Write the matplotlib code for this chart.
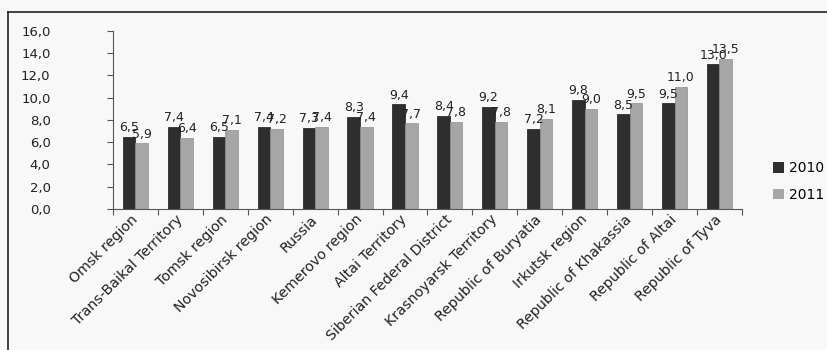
import matplotlib.pyplot as plt
from matplotlib.lines import Line2D
from matplotlib.patches import Patch
import numpy as np

# mortality by region, 2010 vs 2011
regions = [
    "Omsk region", "Trans-Baikal Territory", "Tomsk region",
    "Novosibirsk region", "Russia", "Kemerovo region", "Altai Territory",
    "Siberian Federal District", "Krasnoyarsk Territory",
    "Republic of Buryatia", "Irkutsk region", "Republic of Khakassia",
    "Republic of Altai", "Republic of Tyva",
]
vals_2010 = [6.5, 7.4, 6.5, 7.4, 7.3, 8.3, 9.4, 8.4, 9.2, 7.2, 9.8, 8.5, 9.5, 13.0]
vals_2011 = [5.9, 6.4, 7.1, 7.2, 7.4, 7.4, 7.7, 7.8, 7.8, 8.1, 9.0, 9.5, 11.0, 13.5]
years = ["2010", "2011"]
yticks = np.arange(0, 16.1, 2)

DARK = "#2e2e2e"
LIGHT = "#a6a6a6"
BG = "#f8f8f8"


def fmt(v):
    return f"{v:.1f}".replace(".", ",")


fig = plt.figure(figsize=(8.28, 3.5), dpi=100, facecolor=BG)
ax = fig.add_axes([0.1365, 0.403, 0.7595, 0.5084])
ax.set_facecolor(BG)

x = np.arange(len(regions))
w = 0.28
b1 = ax.bar(x - w / 2, vals_2010, w, color=DARK, edgecolor="#1a1a1a", linewidth=0.5)
b2 = ax.bar(x + w / 2, vals_2011, w, color=LIGHT, edgecolor="#909090", linewidth=0.5)

for bars, vals in ((b1, vals_2010), (b2, vals_2011)):
    for r, v in zip(bars, vals):
        ax.text(r.get_x() + r.get_width() / 2, v + 0.25, fmt(v),
                ha="center", va="bottom", fontsize=9, color="#222222")

ax.set_xlim(-0.5, len(regions) - 0.5)
ax.set_ylim(0, 16)
ax.set_yticks(yticks)
ax.set_yticklabels([fmt(t) for t in yticks], fontsize=9.5, color="#222222")
ax.tick_params(axis="y", length=4, pad=41, color="#555555")

# category ticks sit between the groups
ax.set_xticks(np.arange(-0.5, len(regions) + 0.5, 1))
ax.set_xticklabels([])
ax.tick_params(axis="x", length=4, color="#555555")
ax.set_xticks(x, minor=True)
ax.set_xticklabels(regions, minor=True, rotation=45, ha="right", va="center",
                   rotation_mode="anchor", fontsize=10.2, color="#222222")
ax.tick_params(axis="x", which="minor", length=0, pad=6)

for s in ("top", "right"):
    ax.spines[s].set_visible(False)
for s in ("left", "bottom"):
    ax.spines[s].set_color("#555555")
    ax.spines[s].set_linewidth(0.8)

handles = [Patch(facecolor=DARK), Patch(facecolor=LIGHT)]
fig.legend(handles, years, loc="upper left", bbox_to_anchor=(0.918, 0.575),
           frameon=False, fontsize=10, handlelength=0.8, handleheight=0.8,
           handletextpad=0.4, labelspacing=0.9)

# page frame around the chart
fig.add_artist(Line2D([0.0097, 0.0097], [0.0, 0.966], color="#222222", lw=1.2))
fig.add_artist(Line2D([0.0097, 1.0], [0.966, 0.966], color="#222222", lw=1.2))

fig.savefig("out.png", dpi=100, facecolor=BG)
